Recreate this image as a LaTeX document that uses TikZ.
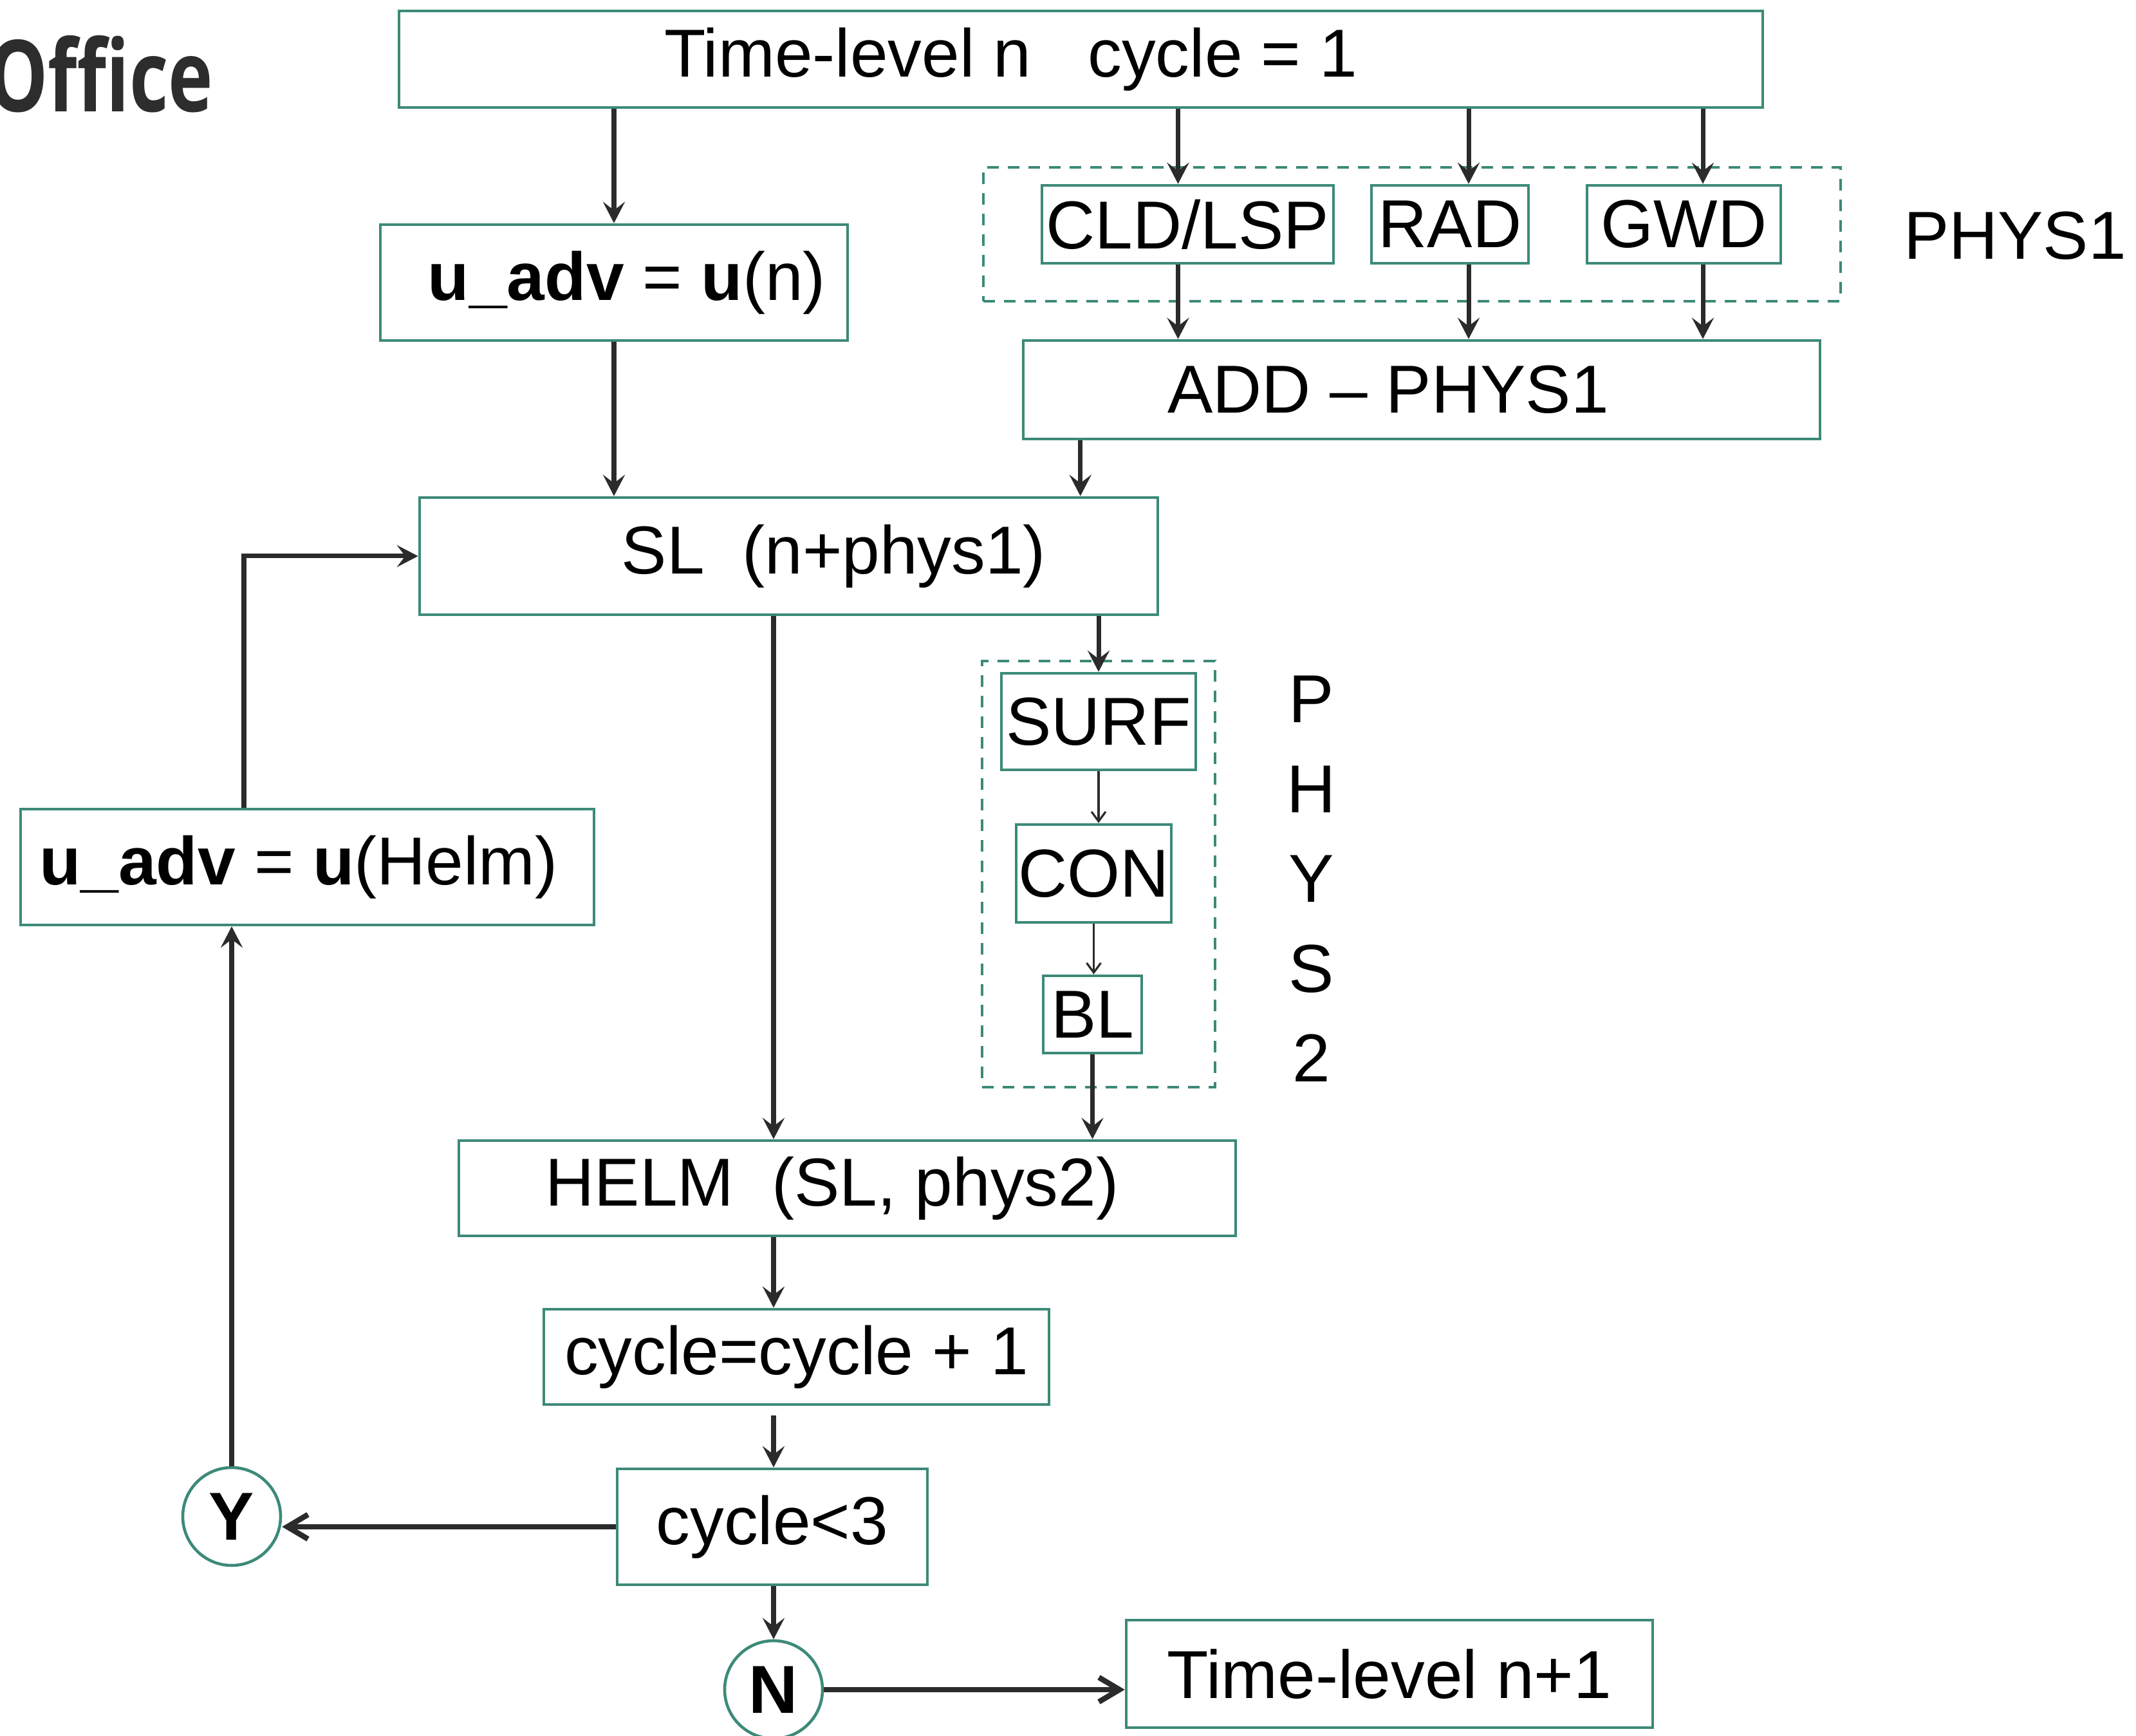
\documentclass[tikz,border=0pt]{standalone}
\usepackage{fontspec}
\setmainfont{Liberation Sans}
\newfontfamily\officefont[FakeStretch=0.76]{Open Sans}
\usepackage{tikz}
\usetikzlibrary{positioning,calc,arrows.meta}
\definecolor{boxline}{HTML}{3C8A78}
\definecolor{linegray}{HTML}{2B2B2B}
\definecolor{officegray}{HTML}{2D2D2D}

\begin{document}
\begin{tikzpicture}[
  font=\fontsize{30}{36}\selectfont,
  box/.style={draw=boxline, line width=1.3pt, inner sep=0pt},
  dashbox/.style={draw=boxline, line width=1.3pt, dash pattern=on 1.8mm off 1.4mm},
  yn/.style={circle, draw=boxline, line width=1.3pt, minimum size=15.2mm, inner sep=0pt,
    font=\fontsize{30}{36}\selectfont\bfseries},
  arr/.style={draw=linegray, line width=2pt, -{Stealth[length=3.3mm,width=3.4mm,inset=1.3mm]}},
  thinarr/.style={draw=linegray, line width=0.9pt, -{Straight Barb[length=1.5mm,width=2.2mm]}},
  barb/.style={draw=linegray, line width=2.4pt, -{Straight Barb[length=3.2mm,width=3.8mm]}},
]
  \useasboundingbox (0,0) rectangle (33.19,26.97);

  % logo fragment
  \node[anchor=base east, text=officegray, inner sep=0pt,
    font=\officefont\bfseries\fontsize{44}{50}\selectfont] (office) at (3.32, 25.23) {Office};

  % Time-level n
  \node[box, minimum width=21.19cm, minimum height=1.5cm] (top) at (16.795, 26.05)
    {Time-level n\ \ \ cycle = 1\hspace*{2.17cm}};
  \node[box, minimum width=7.26cm, minimum height=1.8cm] (uadvn) at (9.54, 22.58)
    {\hspace*{0.4cm}\textbf{u\_adv} = \textbf{u}(n)};

  % PHYS1
  \node[dashbox, minimum width=13.32cm, minimum height=2.08cm] (phys1box) at (21.94, 23.33) {};
  \node[box, minimum width=4.53cm, minimum height=1.21cm] (cld) at (18.455, 23.485) {CLD/LSP};
  \node[box, minimum width=2.44cm, minimum height=1.21cm] (rad) at (22.53, 23.485) {RAD};
  \node[box, minimum width=3.01cm, minimum height=1.21cm] (gwd) at (26.165, 23.485) {GWD};
  \node (phys1) at (31.31, 23.31) {PHYS1};
  \node[box, minimum width=12.38cm, minimum height=1.53cm] (add) at (22.09, 20.915)
    {ADD -- PHYS1\hspace*{1.04cm}};

  % SL
  \node[box, minimum width=11.47cm, minimum height=1.82cm] (sl) at (12.255, 18.33)
    {\hspace*{1.4cm}SL\ \ (n+phys1)};

  % PHYS2
  \node[dashbox, minimum width=3.62cm, minimum height=6.62cm] (phys2box) at (17.07, 13.39) {};
  \node[box, minimum width=3.02cm, minimum height=1.5cm] (surf) at (17.07, 15.76) {SURF};
  \node[box, minimum width=2.41cm, minimum height=1.52cm] (con) at (16.995, 13.40) {CON};
  \node[box, minimum width=1.53cm, minimum height=1.2cm] (bl) at (16.975, 11.21) {BL};
  \node[align=center, font=\fontsize{30}{39.7}\selectfont] (phys2) at (20.38, 13.315)
    {P\\H\\Y\\S\\2};

  % u_adv from Helm
  \node[box, minimum width=8.91cm, minimum height=1.8cm] (uhelm) at (4.775, 13.50)
    {\textbf{u\_adv} = \textbf{u}(Helm)\hspace*{0.27cm}};

  % HELM and cycle test
  \node[box, minimum width=12.07cm, minimum height=1.48cm] (helm) at (13.165, 8.51)
    {HELM\ \ (SL, phys2)\hspace*{0.47cm}};
  \node[box, minimum width=7.85cm, minimum height=1.48cm] (cyc1) at (12.375, 5.89) {cycle=cycle + 1};
  \node[box, minimum width=4.82cm, minimum height=1.8cm] (cyc3) at (12.00, 3.25) {cycle<3};
  \node[yn] (yc) at (3.60, 3.41) {Y};
  \node[yn] (nc) at (12.02, 0.72) {N};
  \node[box, minimum width=8.18cm, minimum height=1.67cm] (tl1) at (21.59, 0.965) {Time-level n+1};

  % connectors
  \coordinate (k1) at ($(cld.north)+(-0.15,0)$);
  \coordinate (k2) at ($(rad.north)+(0.29,0)$);
  \coordinate (k3) at ($(gwd.north)+(0.295,0)$);
  \draw[arr] (uadvn.north |- top.south) -- (uadvn.north);
  \foreach \k in {k1,k2,k3} {
    \draw[arr] (\k |- top.south) -- (\k);
    \draw[arr] (\k |- cld.south) -- (\k |- add.north);
  }
  \draw[arr] (uadvn.south) -- (uadvn.south |- sl.north);
  \coordinate (addout) at ($(add.south west)+(0.91,0)$);
  \draw[arr] (addout) -- (addout |- sl.north);
  \draw[arr] (surf.north |- sl.south) -- (surf.north);
  \draw[thinarr] (surf.south) -- (surf.south |- con.north);
  \draw[thinarr] (con.south) -- (con.south |- bl.north);
  \draw[arr] (bl.south) -- (bl.south |- helm.north);
  \draw[arr] (nc |- sl.south) -- (nc |- helm.north);
  \draw[arr] (nc |- helm.south) -- (nc |- cyc1.north);
  \draw[arr, shorten <=1.5mm] (nc |- cyc1.south) -- (nc |- cyc3.north);
  \draw[arr] (nc |- cyc3.south) -- (nc.north);
  \draw[barb] (cyc3.west) -- (cyc3.west -| yc.east);
  \draw[barb] (nc.east) -- (nc.east -| tl1.west);
  \draw[arr] (yc.north) -- (yc.north |- uhelm.south);
  \draw[arr] ($(uhelm.north)+(-0.985,0)$) |- (sl.west);
\end{tikzpicture}
\end{document}
